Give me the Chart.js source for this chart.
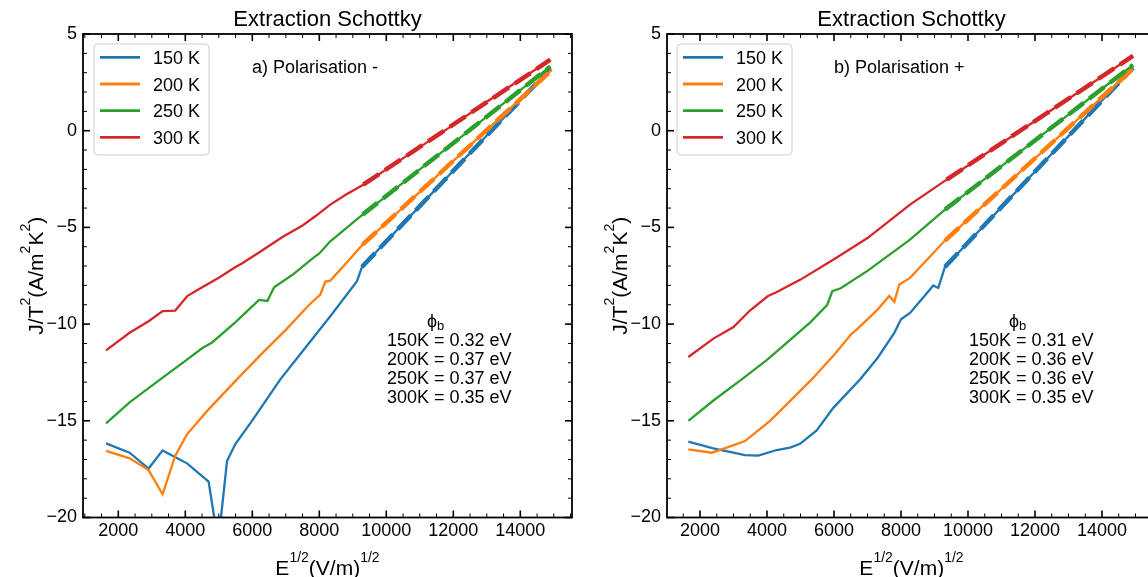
<!DOCTYPE html>
<html>
<head>
<meta charset="utf-8">
<script src="https://cdn.jsdelivr.net/npm/chart.js@4.4.1/dist/chart.umd.min.js"></script>
<style>
  html, body { margin: 0; padding: 0; background: #fff; overflow: hidden; }
  #wrap { position: relative; width: 1148px; height: 577px; overflow: hidden; }
  canvas { position: absolute; top: 0; }
  #chartA { left: 0; }
  #chartB { left: 574px; }
</style>
</head>
<body>
<div id="wrap">
  <canvas id="chartA" width="574" height="577"></canvas>
  <canvas id="chartB" width="600" height="577"></canvas>
</div>
<script>
// temperatures / couleurs
const labels = ["150 K", "200 K", "250 K", "300 K"];
const colors = ["#1f77b4", "#ff7f0e", "#2ca02c", "#d62728"];
const xTickVals = [2000, 4000, 6000, 8000, 10000, 12000, 14000];
const yTickVals = [-20, -15, -10, -5, 0, 5];

// a) Polarisation -  : [E^1/2, J/T^2]
const neg150 = [[1633,-16.17],[2337,-16.65],[2904,-17.47],[3322,-16.53],[4051,-17.2],[4696,-18.15],[4900,-20.4],[5040,-20.4],[5245,-17.08],[5493,-16.2],[5991,-15.0],[6836,-12.86],[7500,-11.4],[8328,-9.59],[9125,-7.78],[9274,-7.04],[10000,-5.72],[11000,-3.9],[12000,-2.07],[13000,-0.25],[14000,1.57],[14896,3.2]];
const neg200 = [[1633,-16.56],[2337,-16.94],[2904,-17.55],[3322,-18.8],[3700,-16.8],[4050,-15.7],[4647,-14.5],[5540,-12.86],[6300,-11.5],[7000,-10.3],[7700,-9.0],[8030,-8.47],[8180,-7.8],[8328,-7.75],[8800,-6.85],[9292,-5.89],[10000,-4.76],[11000,-3.16],[12000,-1.56],[13000,0.04],[14000,1.64],[14946,3.15]];
const neg250 = [[1633,-15.13],[2337,-14.05],[3254,-12.86],[4000,-11.9],[4500,-11.25],[4800,-10.95],[5500,-9.9],[6200,-8.75],[6450,-8.8],[6650,-8.1],[7200,-7.45],[7800,-6.6],[8000,-6.35],[8328,-5.72],[9292,-4.34],[10000,-3.38],[11000,-2.0],[12000,-0.64],[13000,0.73],[14000,2.1],[14896,3.32]];
const neg300 = [[1633,-11.36],[2337,-10.45],[2904,-9.85],[3322,-9.33],[3700,-9.3],[4060,-8.55],[4400,-8.2],[5000,-7.6],[5500,-7.05],[5700,-6.85],[6200,-6.3],[6900,-5.5],[7500,-4.9],[7900,-4.4],[8328,-3.82],[8800,-3.3],[9313,-2.79],[10000,-2.0],[11000,-0.85],[12000,0.3],[13000,1.5],[14000,2.65],[14896,3.67]];
const fitNeg150 = [[9274,-7.04],[14896,3.2]];
const fitNeg200 = [[9292,-5.89],[14946,3.15]];
const fitNeg250 = [[9292,-4.34],[14896,3.32]];
const fitNeg300 = [[9313,-2.79],[14896,3.67]];
const phiNeg = ["150K = 0.32 eV", "200K = 0.37 eV", "250K = 0.37 eV", "300K = 0.35 eV"];

// b) Polarisation +
const pos150 = [[1651,-16.08],[2397,-16.43],[3343,-16.77],[3740,-16.8],[4290,-16.51],[4687,-16.39],[4985,-16.19],[5483,-15.5],[5979,-14.33],[6776,-12.86],[7300,-11.75],[7800,-10.45],[8000,-9.75],[8269,-9.42],[8700,-8.55],[8964,-8.0],[9113,-8.13],[9313,-7.04],[10000,-5.78],[11000,-3.95],[12000,-2.11],[13000,-0.28],[14000,1.56],[14925,3.25]];
const pos200 = [[1651,-16.48],[2349,-16.65],[2797,-16.39],[3343,-16.05],[3693,-15.56],[4090,-15.0],[4588,-14.15],[5334,-12.86],[6000,-11.6],[6500,-10.55],[6700,-10.25],[7300,-9.25],[7650,-8.55],[7800,-8.85],[7950,-7.95],[8269,-7.61],[9313,-5.68],[10000,-4.59],[11000,-3.01],[12000,-1.43],[13000,0.15],[14000,1.73],[14925,3.2]];
const pos250 = [[1651,-15.0],[2400,-13.95],[3245,-12.86],[4000,-11.85],[4700,-10.8],[5300,-9.9],[5800,-9.0],[5950,-8.3],[6200,-8.15],[7000,-7.25],[8269,-5.63],[9313,-4.08],[10000,-3.16],[11000,-1.83],[12000,-0.5],[13000,0.83],[14000,2.17],[14925,3.4]];
const pos300 = [[1651,-11.7],[2400,-10.75],[3000,-10.15],[3490,-9.3],[4030,-8.55],[4280,-8.35],[5000,-7.7],[6000,-6.65],[7000,-5.55],[8269,-3.82],[9363,-2.53],[10000,-1.8],[11000,-0.65],[12000,0.5],[13000,1.65],[14000,2.8],[14925,3.87]];
const fitPos150 = [[9313,-7.04],[14925,3.25]];
const fitPos200 = [[9313,-5.68],[14925,3.2]];
const fitPos250 = [[9313,-4.08],[14925,3.4]];
const fitPos300 = [[9363,-2.53],[14925,3.87]];
const phiPos = ["150K = 0.31 eV", "200K = 0.36 eV", "250K = 0.36 eV", "300K = 0.35 eV"];

const FONT = "'Liberation Sans', Arial, sans-serif";
Chart.defaults.font.family = FONT;
Chart.defaults.color = "#000";

// texte avec exposants / indices : parts = [[texte, taille, decalage]]
function drawParts(ctx, parts, x, y, align) {
  let w = 0;
  parts.forEach(([t, s]) => { ctx.font = `${s}px ${FONT}`; w += ctx.measureText(t).width; });
  let cx = align === "center" ? x - w / 2 : x;
  parts.forEach(([t, s, dy]) => {
    ctx.font = `${s}px ${FONT}`;
    ctx.fillText(t, cx, y + dy);
    cx += ctx.measureText(t).width;
  });
}

// cadre, graduations internes, legende, textes
const decor = {
  id: "decor",
  afterDraw(chart, args, o) {
    const { ctx, chartArea: a, scales: { x, y } } = chart;
    ctx.save();
    ctx.strokeStyle = "#000";
    ctx.fillStyle = "#000";

    // graduations vers l'interieur sur les 4 cotes
    const line = (x1, y1, x2, y2, w) => {
      ctx.lineWidth = w; ctx.beginPath(); ctx.moveTo(x1, y1); ctx.lineTo(x2, y2); ctx.stroke();
    };
    for (let v = Math.ceil(x.min / 500) * 500; v <= x.max; v += 500) {
      const p = x.getPixelForValue(v);
      const major = v % 2000 === 0;
      const L = major ? 7 : 4, w = major ? 1.6 : 1;
      line(p, a.bottom, p, a.bottom - L, w);
      line(p, a.top, p, a.top + L, w);
    }
    for (let v = Math.ceil(y.min); v <= y.max; v += 1) {
      const p = y.getPixelForValue(v);
      const major = v % 5 === 0;
      const L = major ? 7 : 4, w = major ? 1.6 : 1;
      line(a.left, p, a.left + L, p, w);
      line(a.right, p, a.right - L, p, w);
    }
    ctx.lineWidth = 1.8;
    ctx.strokeRect(a.left, a.top, a.width, a.height);

    // legende
    const lg = o.legend;
    const bx = a.left + lg.x, by = a.top + lg.y, bw = 115, bh = 111, r = 4;
    ctx.beginPath();
    ctx.moveTo(bx + r, by);
    ctx.arcTo(bx + bw, by, bx + bw, by + bh, r);
    ctx.arcTo(bx + bw, by + bh, bx, by + bh, r);
    ctx.arcTo(bx, by + bh, bx, by, r);
    ctx.arcTo(bx, by, bx + bw, by, r);
    ctx.closePath();
    ctx.fillStyle = "rgba(255,255,255,0.8)";
    ctx.fill();
    ctx.strokeStyle = "#cccccc";
    ctx.lineWidth = 1;
    ctx.stroke();
    labels.forEach((lab, i) => {
      const ry = by + 13.3 + i * 26.7;
      ctx.strokeStyle = colors[i];
      line(bx + 6, ry, bx + 46, ry, 2.8);
      ctx.fillStyle = "#000";
      ctx.font = `18px ${FONT}`;
      ctx.textAlign = "left";
      ctx.textBaseline = "alphabetic";
      ctx.fillText(lab, bx + 59, ry + 6.5);
    });

    ctx.fillStyle = "#000";
    ctx.textAlign = "left";
    ctx.textBaseline = "alphabetic";

    // titre
    ctx.font = `22px ${FONT}`;
    ctx.textAlign = "center";
    ctx.fillText(o.title, (a.left + a.right) / 2, 26);
    ctx.textAlign = "left";

    // annotation polarisation
    ctx.font = `18px ${FONT}`;
    ctx.fillText(o.annot, a.left + o.annotX, a.top + 39);

    // hauteurs de barriere
    const px = a.left + o.phiX;
    drawParts(ctx, [["\u03d5", 18, 0], ["b", 13, 3]], px + 40, 326.5, "left");
    o.phi.forEach((t, i) => {
      ctx.font = `18px ${FONT}`;
      ctx.fillText(t, px, 346 + i * 19.1);
    });

    // titres des axes
    drawParts(ctx, [["E", 21, 0], ["1/2", 14, -13], ["(V/m)", 21, 0], ["1/2", 14, -13]],
      (a.left + a.right) / 2, a.bottom + 57.5, "center");
    ctx.save();
    ctx.translate(a.left - 40, (a.top + a.bottom) / 2);
    ctx.rotate(-Math.PI / 2);
    drawParts(ctx, [["J/T", 21, 0], ["2", 14, -13], ["(A/m", 21, 0], ["2", 14, -13], ["K", 21, 0], ["2", 14, -13], [")", 21, 0]],
      0, 0, "center");
    ctx.restore();

    ctx.restore();
  },
};

function makeChart(id, series, fits, cfg) {
  const datasets = [];
  series.forEach((d, i) => {
    datasets.push({
      label: labels[i], data: d, borderColor: colors[i], borderWidth: 2.3,
      pointRadius: 0, tension: 0, order: 2 * (4 - i),
    });
    datasets.push({
      data: fits[i], borderColor: colors[i], borderWidth: 4.5, borderDash: [19, 7],
      pointRadius: 0, tension: 0, order: 2 * (4 - i) - 1,
    });
  });
  return new Chart(document.getElementById(id), {
    type: "line",
    data: { datasets },
    options: {
      responsive: false,
      animation: false,
      events: [],
      layout: { padding: { left: 0, right: cfg.padRight, top: 34, bottom: 0 } },
      plugins: {
        legend: { display: false },
        tooltip: { enabled: false },
        decor: cfg.decor,
      },
      scales: {
        x: {
          type: "linear", min: cfg.xMin, max: cfg.xMax,
          grid: { display: false, drawTicks: false }, border: { display: false },
          afterBuildTicks: (s) => { s.ticks = xTickVals.map((v) => ({ value: v })); },
          afterFit: (s) => { s.height = 59.5; },
          ticks: { font: { size: 18 }, color: "#000", padding: 3, maxRotation: 0, autoSkip: false,
            callback: (v) => String(v) },
        },
        y: {
          type: "linear", min: -20, max: 5,
          grid: { display: false, drawTicks: false }, border: { display: false },
          afterBuildTicks: (s) => { s.ticks = yTickVals.map((v) => ({ value: v })); },
          afterFit: (s) => { s.width = cfg.yWidth; },
          ticks: { font: { size: 18 }, color: "#000", padding: 6,
            callback: (v) => String(v).replace("-", "\u2212") },
        },
      },
    },
    plugins: [decor],
  });
}

makeChart("chartA", [neg150, neg200, neg250, neg300], [fitNeg150, fitNeg200, fitNeg250, fitNeg300], {
  xMin: 946, xMax: 15543, yWidth: 83, padRight: 2,
  decor: { title: "Extraction Schottky", annot: "a) Polarisation -", annotX: 169, phiX: 304, phi: phiNeg, legend: { x: 11, y: 10 } },
});
makeChart("chartB", [pos150, pos200, pos250, pos300], [fitPos150, fitPos200, fitPos250, fitPos300], {
  xMin: 1015, xMax: 15612, yWidth: 93, padRight: 18,
  decor: { title: "Extraction Schottky", annot: "b) Polarisation +", annotX: 167, phiX: 302, phi: phiPos, legend: { x: 10, y: 10 } },
});
</script>
</body>
</html>
